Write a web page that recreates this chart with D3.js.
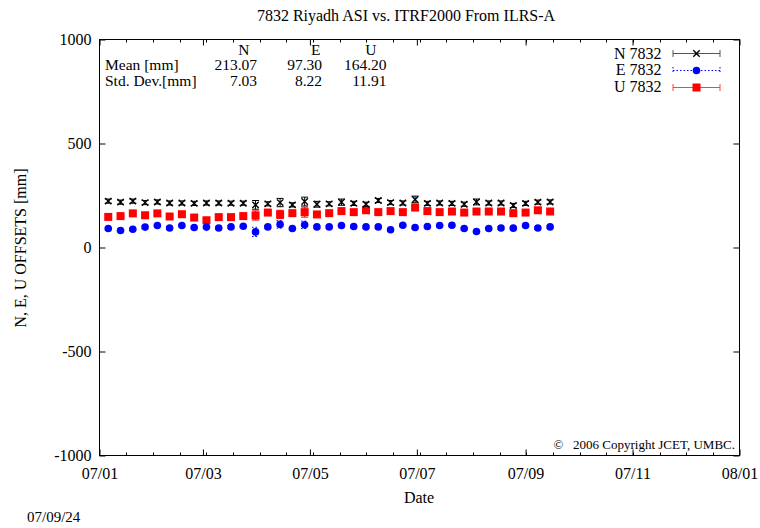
<!DOCTYPE html>
<html>
<head>
<meta charset="utf-8">
<script src="https://cdn.jsdelivr.net/npm/d3@7"></script>
<style>
  html, body { margin: 0; padding: 0; background: #fff; }
  svg { display: block; }
  text { font-family: "Liberation Serif", "Times New Roman", serif; fill: #000; }
</style>
</head>
<body>
<svg id="chart" width="760" height="528"></svg>
<script>
// ---- data ----
const dates = [
  "2007-01-06","2007-01-13","2007-01-20","2007-01-27","2007-02-03","2007-02-10","2007-02-17",
  "2007-02-24","2007-03-03","2007-03-10","2007-03-17","2007-03-24","2007-03-31","2007-04-07",
  "2007-04-14","2007-04-21","2007-04-28","2007-05-05","2007-05-12","2007-05-19","2007-05-26",
  "2007-06-02","2007-06-09","2007-06-16","2007-06-23","2007-06-30","2007-07-07","2007-07-14",
  "2007-07-21","2007-07-28","2007-08-04","2007-08-11","2007-08-18","2007-08-25","2007-09-01",
  "2007-09-08","2007-09-15"
];
const nVals = [223,218,223,216,219,214,214,212,214, 214,213,213,205,210,216,205,221,208,
               210,218,212,208,226,216,214,231,212, 214,212,208,219,214,214,202,212,218,219];
const eVals = [91,82,88,98,106,94,106,96,98, 94,99,102,75,99,111,91,109,99,
               99,106,101,99,99,85,107,96,101, 106,107,91,77,91,94,93,106,94,99];
const uVals = [147,151,164,155,164,149,160,144,131, 146,146,151,154,168,159,165,170,159,
               165,175,170,179,170,175,170,192,175, 170,173,168,173,173,173,165,168,179,173];
const nErr = [10,10,10,10,10,10,10,10,10, 10,10,10,21,10,20,10,21,14,
              10,15,10,10,10,10,10,16,10, 10,10,10,14,10,10,10,10,10,10];
const eErr = [6,6,6,6,6,6,6,6,6, 6,6,6,22,6,18,6,18,6,
              6,6,6,6,6,6,6,6,6, 6,6,6,6,6,6,6,6,6,6];
const uErr = [6,6,6,6,6,6,6,6,6, 6,6,6,22,6,20,6,24,12,
              6,6,6,6,6,6,6,6,6, 6,6,6,6,6,6,6,6,6,6];
const yTicks = [-1000, -500, 0, 500, 1000];
const statHeaders = ["N", "E", "U"];
const statMean = ["213.07", "97.30", "164.20"];
const statStd = ["7.03", "8.22", "11.91"];
const legendLabels = ["N 7832", "E 7832", "U 7832"];

// ---- layout ----
const svg = d3.select("#chart");
const L = 99.5, R = 739.5, T = 39.5, B = 455.5;
const parse = d3.utcParse("%Y-%m-%d");
const x = d3.scaleUtc().domain([parse("2007-01-01"), parse("2008-01-01")]).range([L, R]);
const y = d3.scaleLinear().domain([-1000, 1000]).range([B, T]);
const FS = 16;

// border
svg.append("rect").attr("x", L).attr("y", T).attr("width", R - L).attr("height", B - T)
  .attr("fill", "none").attr("stroke", "#000").attr("stroke-width", 1);

// x axis (bottom, labels) + top mirror
const majorX = x.ticks(d3.utcMonth.every(2));
const fmt = d3.utcFormat("%y/%m");
const xAxis = d3.axisBottom(x).tickValues(majorX).tickFormat(fmt).tickSize(-6).tickPadding(12);
const gx = svg.append("g").attr("transform", `translate(0,${B})`).call(xAxis);
gx.select(".domain").remove();
gx.selectAll("text").attr("font-size", FS).attr("font-family", "Liberation Serif");
const gxt = svg.append("g").attr("transform", `translate(0,${T})`)
  .call(d3.axisTop(x).tickValues(majorX).tickFormat("").tickSize(-6));
gxt.select(".domain").remove();

// x minor ticks (24 per year)
const d0 = x.domain()[0].getTime(), d1 = x.domain()[1].getTime();
const minorX = d3.range(1, 24).map(k => new Date(d0 + (d1 - d0) * k / 24));
svg.append("g").selectAll("line").data(minorX).join("line")
  .attr("x1", d => Math.round(x(d)) + 0.5).attr("x2", d => Math.round(x(d)) + 0.5)
  .attr("y1", B).attr("y2", B - 3).attr("stroke", "#000");
svg.append("g").selectAll("line").data(minorX).join("line")
  .attr("x1", d => Math.round(x(d)) + 0.5).attr("x2", d => Math.round(x(d)) + 0.5)
  .attr("y1", T).attr("y2", T + 3).attr("stroke", "#000");

// y axis left + right mirror
const gy = svg.append("g").attr("transform", `translate(${L},0)`)
  .call(d3.axisLeft(y).tickValues(yTicks).tickFormat(d => String(d)).tickSize(-6).tickPadding(8));
gy.select(".domain").remove();
gy.selectAll("text").attr("font-size", FS).attr("font-family", "Liberation Serif");
const gyr = svg.append("g").attr("transform", `translate(${R},0)`)
  .call(d3.axisRight(y).tickValues(yTicks).tickFormat("").tickSize(-6));
gyr.select(".domain").remove();

// titles
svg.append("text").attr("x", 406).attr("y", 21).attr("text-anchor", "middle")
  .attr("font-size", FS).text("7832 Riyadh ASI vs. ITRF2000 From ILRS-A");
svg.append("text").attr("x", 419).attr("y", 503).attr("text-anchor", "middle")
  .attr("font-size", FS).text("Date");
svg.append("text").attr("transform", "translate(26,248) rotate(-90)").attr("text-anchor", "middle")
  .attr("font-size", FS).text("N, E, U OFFSETS [mm]");
svg.append("text").attr("x", 27).attr("y", 522).attr("font-size", 15).text("07/09/24");
svg.append("text").attr("x", 735).attr("y", 449).attr("text-anchor", "end")
  .attr("font-size", 13).text("\u00A9\u00A0\u00A0 2006 Copyright JCET, UMBC.");

// stats block
const SFS = 15.5;
const hdrX = [249.5, 320.5, 376.5];
const colX = [257, 322, 386.5];
const rowY = [54.5, 70, 85.5];
statHeaders.forEach((h, i) => svg.append("text").attr("x", hdrX[i]).attr("y", rowY[0])
  .attr("text-anchor", "end").attr("font-size", SFS).text(h));
svg.append("text").attr("x", 105).attr("y", rowY[1]).attr("font-size", SFS).text("Mean [mm]");
svg.append("text").attr("x", 105).attr("y", rowY[2]).attr("font-size", SFS).text("Std. Dev.[mm]");
statMean.forEach((v, i) => svg.append("text").attr("x", colX[i]).attr("y", rowY[1])
  .attr("text-anchor", "end").attr("font-size", SFS).text(v));
statStd.forEach((v, i) => svg.append("text").attr("x", colX[i]).attr("y", rowY[2])
  .attr("text-anchor", "end").attr("font-size", SFS).text(v));

// ---- series ----
const series = [
  { vals: uVals, err: uErr, color: "#ff0000", dash: null, marker: "square" },
  { vals: nVals, err: nErr, color: "#000000", dash: null, marker: "cross" },
  { vals: eVals, err: eErr, color: "#0000ff", dash: "1.5,2", marker: "circle" }
];
const pts = s => dates.map((d, i) => ({ x: x(parse(d)), v: s.vals[i], e: s.err[i] }));

function drawErr(g, s, data) {
  const cw = 3.5;
  const eg = g.append("g").attr("stroke", s.color).attr("stroke-width", 1)
    .attr("stroke-dasharray", s.dash);
  eg.selectAll(".v").data(data).join("line")
    .attr("x1", d => d.x).attr("x2", d => d.x)
    .attr("y1", d => y(d.v - d.e)).attr("y2", d => y(d.v + d.e));
  eg.selectAll(".t").data(data).join("line")
    .attr("x1", d => d.x - cw).attr("x2", d => d.x + cw)
    .attr("y1", d => y(d.v + d.e)).attr("y2", d => y(d.v + d.e));
  eg.selectAll(".b").data(data).join("line")
    .attr("x1", d => d.x - cw).attr("x2", d => d.x + cw)
    .attr("y1", d => y(d.v - d.e)).attr("y2", d => y(d.v - d.e));
}
function drawMarker(g, s, cx, cy) {
  if (s.marker === "square") {
    g.append("rect").attr("x", cx - 4).attr("y", cy - 4).attr("width", 8).attr("height", 8)
      .attr("fill", s.color);
  } else if (s.marker === "circle") {
    g.append("circle").attr("cx", cx).attr("cy", cy).attr("r", 3.8).attr("fill", s.color);
  } else {
    const h = 3.2;
    g.append("path").attr("d", `M${cx - h},${cy - h}L${cx + h},${cy + h}M${cx - h},${cy + h}L${cx + h},${cy - h}`)
      .attr("stroke", s.color).attr("stroke-width", 1.4).attr("fill", "none");
  }
}
series.forEach(s => {
  const g = svg.append("g");
  const data = pts(s);
  drawErr(g, s, data);
  data.forEach(d => drawMarker(g, s, d.x, y(d.v)));
});

// ---- legend ----
const legOrder = [series[1], series[2], series[0]];
const legTextY = [59, 75, 91.5];
const legLineY = [53.5, 70.5, 87.5];
legOrder.forEach((s, i) => {
  svg.append("text").attr("x", 661.5).attr("y", legTextY[i]).attr("text-anchor", "end")
    .attr("font-size", FS).text(legendLabels[i]);
  const g = svg.append("g");
  const col = s.marker === "cross" ? "#555" : (s.marker === "square" ? "#ff4040" : s.color);
  g.append("line").attr("x1", 673).attr("x2", 720).attr("y1", legLineY[i]).attr("y2", legLineY[i])
    .attr("stroke", col).attr("stroke-dasharray", s.dash);
  [673, 720].forEach(xx => g.append("line").attr("x1", xx).attr("x2", xx)
    .attr("y1", legLineY[i] - 3.5).attr("y2", legLineY[i] + 3.5)
    .attr("stroke", col).attr("stroke-dasharray", s.dash));
  drawMarker(g, s, 696.5, legLineY[i]);
});
</script>
</body>
</html>
